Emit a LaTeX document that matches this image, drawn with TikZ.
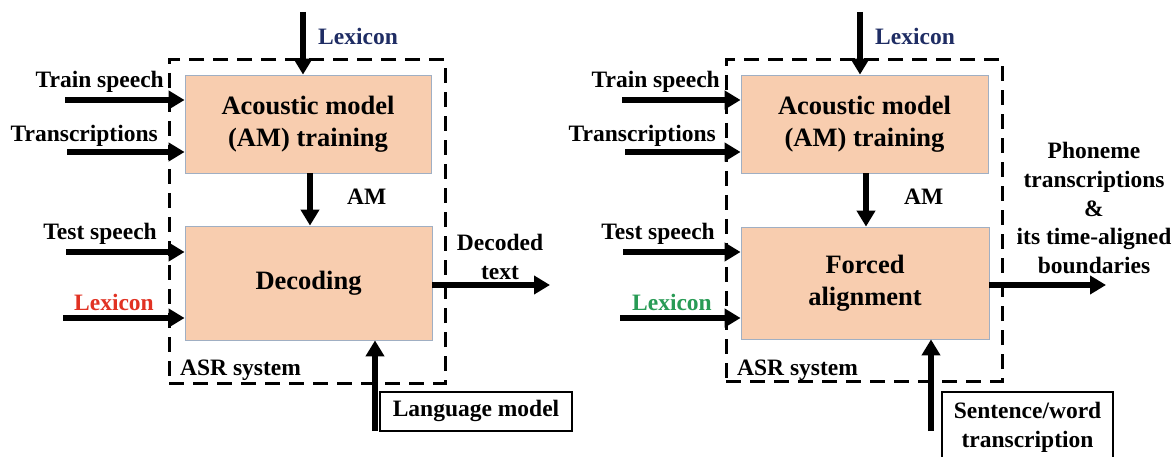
\documentclass[tikz,border=0pt]{standalone}
\usepackage{fontspec}
\setmainfont{Liberation Serif}
\usetikzlibrary{arrows.meta}

\definecolor{peach}{RGB}{248,205,175}
\definecolor{boxedge}{RGB}{160,175,195}
\definecolor{lexnavy}{RGB}{31,45,100}
\definecolor{lexred}{RGB}{225,50,35}
\definecolor{lexgreen}{RGB}{40,155,85}

\tikzset{
  stage/.style={draw=boxedge, line width=0.8pt, fill=peach, align=center,
    font=\fontsize{26.5}{32}\selectfont\bfseries},
  sysbox/.style={draw=black, line width=3pt, dash pattern=on 15pt off 9pt},
  flow/.style={line width=5.5pt, -{Triangle[length=16pt,width=18pt]}},
  lbl/.style={font=\fontsize{23.5}{28.8}\selectfont\bfseries, inner sep=0pt, align=center},
  srcbox/.style={draw=black, line width=2pt, align=center,
    font=\fontsize{23.5}{29}\selectfont\bfseries},
}

\begin{document}
\begin{tikzpicture}[x=1pt, y=-1pt]
\useasboundingbox (0,0) rectangle (1176,457);
\clip (0,0) rectangle (1176,457);

% ---------------- left panel: recognition ----------------
\node[sysbox, minimum width=276, minimum height=323] (sysL) at (307,221.5) {};
\node[stage, minimum width=246, minimum height=98] (amL) at (308,124)
  {Acoustic model\\(AM) training};
\node[stage, minimum width=247, minimum height=114] (decL) at (308.5,283) {Decoding};

\coordinate (lexTopL) at (303,12);
\draw[flow] (lexTopL) -- (lexTopL |- amL.north);
\node[lbl, anchor=base west, text=lexnavy] (lexTopLabelL) at (318,45) {Lexicon};

\coordinate (trainL) at (65,100);
\draw[flow] (trainL) -- (trainL -| amL.west);
\node[lbl, anchor=base east] (trainLabelL) at (164,88) {Train speech};

\coordinate (transL) at (67,152);
\draw[flow] (transL) -- (transL -| amL.west);
\node[lbl, anchor=base east] (transLabelL) at (158,142) {Transcriptions};

\coordinate (amOutL) at (310,0);
\draw[flow] (amOutL |- amL.south) -- (amOutL |- decL.north);
\node[lbl, anchor=base west] (amLabelL) at (347,205) {AM};

\coordinate (testL) at (66,252);
\draw[flow] (testL) -- (testL -| decL.west);
\node[lbl, anchor=base east] (testLabelL) at (157,240) {Test speech};

\coordinate (lexInL) at (63,318);
\draw[flow] (lexInL) -- (lexInL -| decL.west);
\node[lbl, anchor=base east, text=lexred] (lexInLabelL) at (154,310) {Lexicon};

\node[lbl, anchor=base west] (sysLabelL) at (180,375) {ASR system};

\coordinate (outL) at (550,285);
\draw[flow] (outL -| decL.east) -- (outL);
\node[lbl] (outLabelL) at (500,257) {Decoded\\text};

\node[srcbox, minimum width=192, minimum height=39, inner sep=0pt] (lmL) at (476,411)
  {Language model};
\coordinate (lmFootL) at (375,431);
\draw[flow] (lmFootL) -- (lmFootL |- decL.south);

% ---------------- right panel: forced alignment ----------------
\node[sysbox, minimum width=276, minimum height=321] (sysR) at (864,220.5) {};
\node[stage, minimum width=247, minimum height=98] (amR) at (864.5,124)
  {Acoustic model\\(AM) training};
\node[stage, minimum width=248, minimum height=112] (faR) at (865,283)
  {Forced\\alignment};

\coordinate (lexTopR) at (860,12);
\draw[flow] (lexTopR) -- (lexTopR |- amR.north);
\node[lbl, anchor=base west, text=lexnavy] (lexTopLabelR) at (875,45) {Lexicon};

\coordinate (trainR) at (622,100);
\draw[flow] (trainR) -- (trainR -| amR.west);
\node[lbl, anchor=base east] (trainLabelR) at (720,88) {Train speech};

\coordinate (transR) at (625,152);
\draw[flow] (transR) -- (transR -| amR.west);
\node[lbl, anchor=base east] (transLabelR) at (716,142) {Transcriptions};

\coordinate (amOutR) at (866,0);
\draw[flow] (amOutR |- amR.south) -- (amOutR |- faR.north);
\node[lbl, anchor=base west] (amLabelR) at (904,205) {AM};

\coordinate (testR) at (623,252);
\draw[flow] (testR) -- (testR -| faR.west);
\node[lbl, anchor=base east] (testLabelR) at (715,240) {Test speech};

\coordinate (lexInR) at (620,318);
\draw[flow] (lexInR) -- (lexInR -| faR.west);
\node[lbl, anchor=base east, text=lexgreen] (lexInLabelR) at (712,310) {Lexicon};

\node[lbl, anchor=base west] (sysLabelR) at (737,375) {ASR system};

\coordinate (outR) at (1106,285);
\draw[flow] (outR -| faR.east) -- (outR);
\node[lbl] (outLabelR) at (1094,208)
  {Phoneme\\transcriptions\\\&\\its time-aligned\\boundaries};

\node[srcbox, minimum width=171, minimum height=71, inner sep=0pt] (stR) at (1027.5,427.5)
  {Sentence/word\\transcription};
\coordinate (stFootR) at (931,431);
\draw[flow] (stFootR) -- (stFootR |- faR.south);
\end{tikzpicture}
\end{document}
